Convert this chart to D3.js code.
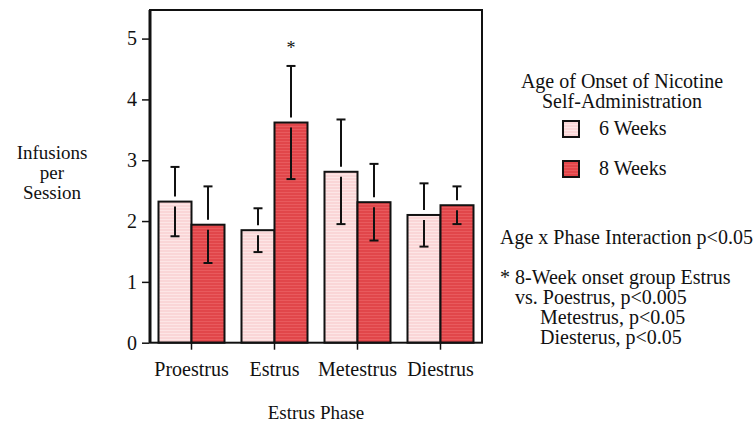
<!DOCTYPE html>
<meta charset="utf-8">
<style>
body { margin: 0; background: #fff; }
text { font-family: "Liberation Serif", "Times New Roman", serif; fill: #111; }
.axis path { display: none; }
.axis line { stroke: #111; stroke-width: 1.5; }
</style>
<svg width="754" height="427"></svg>
<script src="https://d3js.org/d3.v7.min.js"></script>
<script>

// data
var phases = ["Proestrus", "Estrus", "Metestrus", "Diestrus"];
var groups = ["6 Weeks", "8 Weeks"];
var mean6 = [2.32, 1.85, 2.81, 2.10];
var se6 = [0.57, 0.36, 0.86, 0.52];
var mean8 = [1.94, 3.62, 2.31, 2.26];
var se8 = [0.63, 0.93, 0.63, 0.31];
var yTicks = [0, 1, 2, 3, 4, 5];
var notes = [
  "Age x Phase Interaction p<0.05",
  "* 8-Week onset group Estrus",
  "vs. Poestrus, p<0.005",
  "Metestrus, p<0.05",
  "Diesterus, p<0.05"
];

var svg = d3.select("svg");
var mLeft = 150, mRight = 482, mTop = 10, mBottom = 342.7;

var x = d3.scaleBand().domain(phases).range([mLeft, mRight]).padding(0);
var xg = d3.scaleBand().domain(groups).range([8.5, x.bandwidth() - 8.5]).padding(0);
var y = d3.scaleLinear().domain([0, 5.47]).range([mBottom, mTop]);

// faint horizontal texture on the bars
var defs = svg.append("defs");
[["p6", "#fad6d7", "#fde6e6"], ["p8", "#e1464a", "#e85a5d"]].forEach(function(p) {
  var pat = defs.append("pattern").attr("id", p[0])
    .attr("width", 4).attr("height", 3).attr("patternUnits", "userSpaceOnUse");
  pat.append("rect").attr("width", 4).attr("height", 3).attr("fill", p[1]);
  pat.append("rect").attr("width", 4).attr("height", 1).attr("fill", p[2]);
});
var fillId = { "6 Weeks": "url(#p6)", "8 Weeks": "url(#p8)" };

var data = [];
phases.forEach(function(ph, i) {
  data.push({ phase: ph, group: "6 Weeks", m: mean6[i], se: se6[i] });
  data.push({ phase: ph, group: "8 Weeks", m: mean8[i], se: se8[i] });
});

// bars
svg.append("g").selectAll("rect").data(data).enter().append("rect")
  .attr("x", function(d) { return x(d.phase) + xg(d.group); })
  .attr("y", function(d) { return y(d.m); })
  .attr("width", xg.bandwidth())
  .attr("height", function(d) { return mBottom - y(d.m); })
  .attr("fill", function(d) { return fillId[d.group]; })
  .attr("stroke", "#111").attr("stroke-width", 2);

// error bars, broken around the bar top
var gap = 5, cap = 4.5;
var eb = svg.append("g").attr("stroke", "#111").attr("stroke-width", 2).attr("fill", "none");
data.forEach(function(d) {
  var cx = x(d.phase) + xg(d.group) + xg.bandwidth() / 2;
  var yt = y(d.m), yh = y(d.m + d.se), yl = y(d.m - d.se);
  eb.append("line").attr("x1", cx).attr("x2", cx).attr("y1", yh).attr("y2", yt - gap);
  eb.append("line").attr("x1", cx).attr("x2", cx).attr("y1", yt + gap).attr("y2", yl);
  eb.append("line").attr("x1", cx - cap).attr("x2", cx + cap).attr("y1", yh).attr("y2", yh);
  eb.append("line").attr("x1", cx - cap).attr("x2", cx + cap).attr("y1", yl).attr("y2", yl);
});

// significance star over Estrus 8 weeks
svg.append("text")
  .attr("x", x("Estrus") + xg("8 Weeks") + xg.bandwidth() / 2)
  .attr("y", y(mean8[1] + se8[1]) - 12)
  .attr("text-anchor", "middle").attr("font-size", 18).text("*");

// frame
svg.append("rect").attr("x", mLeft).attr("y", mTop)
  .attr("width", mRight - mLeft).attr("height", mBottom - mTop)
  .attr("fill", "none").attr("stroke", "#111").attr("stroke-width", 2);
svg.append("line").attr("x1", mLeft).attr("x2", mLeft).attr("y1", mTop).attr("y2", mBottom)
  .attr("stroke", "#111").attr("stroke-width", 3);

// axes
var yAxis = svg.append("g").attr("class", "axis")
  .attr("transform", "translate(" + (mLeft - 1) + ",0)")
  .call(d3.axisLeft(y).tickValues(yTicks).tickSize(7).tickPadding(5).tickFormat(d3.format("d")));
yAxis.selectAll("text").attr("font-size", 20);

var xAxis = svg.append("g").attr("class", "axis")
  .attr("transform", "translate(0," + (mBottom + 1) + ")")
  .call(d3.axisBottom(x).tickSize(6).tickPadding(8));
xAxis.selectAll("text").attr("font-size", 20).attr("dy", "0.9em");

// axis titles
svg.append("text").attr("x", (mLeft + mRight) / 2).attr("y", 419)
  .attr("text-anchor", "middle").attr("font-size", 19).text("Estrus Phase");
svg.append("text").attr("text-anchor", "middle").attr("font-size", 19)
  .selectAll("tspan").data(["Infusions", "per", "Session"]).enter().append("tspan")
  .attr("x", 52).attr("y", function(d, i) { return 159 + i * 20; }).text(function(d) { return d; });

// legend
svg.append("text").attr("text-anchor", "middle").attr("font-size", 20)
  .selectAll("tspan").data(["Age of Onset of Nicotine", "Self-Administration"]).enter().append("tspan")
  .attr("x", 622).attr("y", function(d, i) { return 88 + i * 20; }).text(function(d) { return d; });
var lg = svg.append("g").selectAll("g").data(groups).enter().append("g")
  .attr("transform", function(d, i) { return "translate(563," + (121 + i * 40) + ")"; });
lg.append("rect").attr("width", 16).attr("height", 16)
  .attr("fill", function(d) { return fillId[d]; }).attr("stroke", "#111").attr("stroke-width", 2);
lg.append("text").attr("x", 36).attr("y", 14).attr("font-size", 20).text(function(d) { return d; });

// notes
var noteX = [500, 500, 515, 540, 540];
var noteY = [244, 284, 304, 324, 344];
svg.append("text").attr("font-size", 20)
  .selectAll("tspan").data(notes).enter().append("tspan")
  .attr("x", function(d, i) { return noteX[i]; })
  .attr("y", function(d, i) { return noteY[i]; })
  .text(function(d) { return d; });

</script>
